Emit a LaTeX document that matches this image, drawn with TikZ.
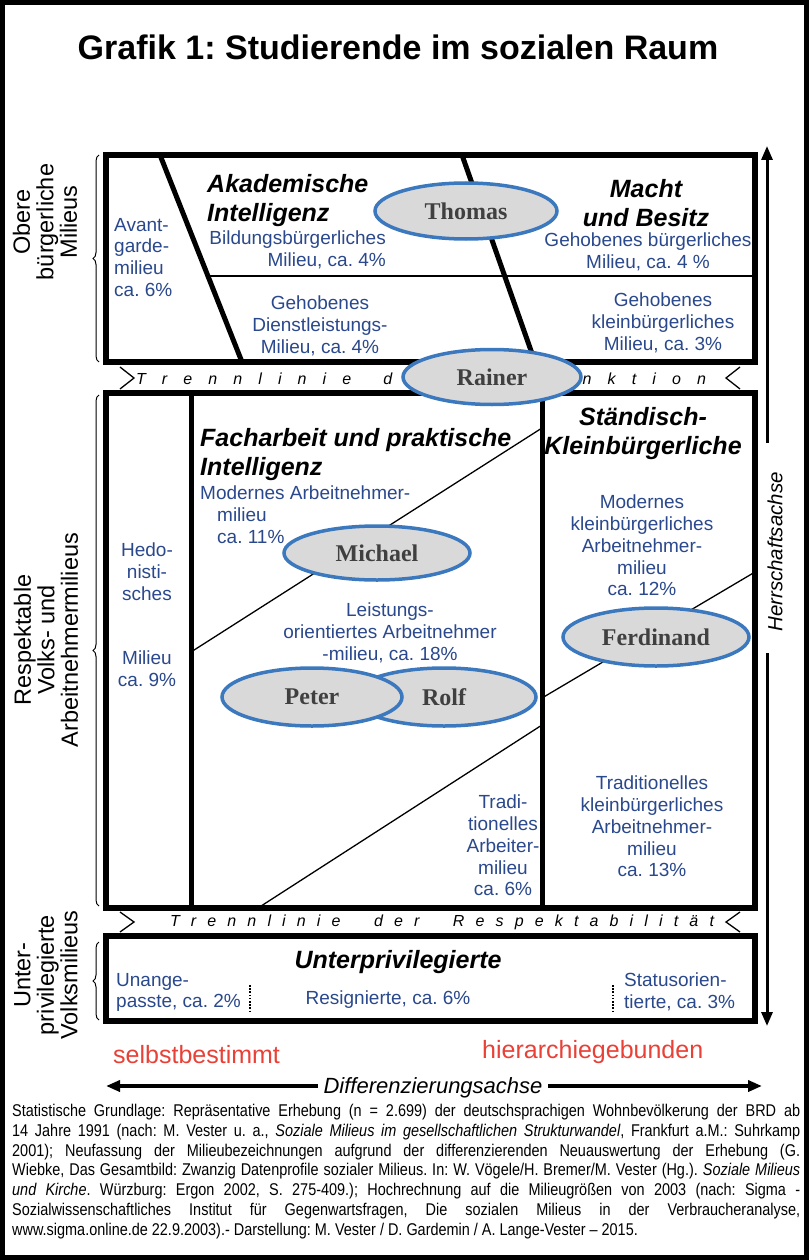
\documentclass[tikz,border=0pt]{standalone}
\usepackage{fontspec}
\setmainfont{Liberation Sans}
\newfontfamily\namefont{Liberation Serif}
\newfontfamily\narrowfont{Liberation Sans}[FakeStretch=0.85]
\usetikzlibrary{shapes.geometric,arrows.meta,decorations.pathreplacing}
\definecolor{mblue}{RGB}{42,72,140}
\definecolor{eblue}{RGB}{59,120,190}
\definecolor{egrey}{RGB}{217,217,217}
\definecolor{ngrey}{RGB}{64,64,64}
\definecolor{redtext}{RGB}{232,65,55}
\frenchspacing
\tikzset{
  milieubox/.style={line width=6pt, line join=miter},
  divider/.style={line width=5pt},
  thinline/.style={line width=1.3pt},
  milieu/.style={text=mblue, font=\fontsize{19}{21.7}\selectfont, inner sep=0pt, align=center},
  headline/.style={font=\fontsize{25}{29.5}\selectfont\bfseries\itshape, inner sep=0pt},
  person/.style={ellipse, draw=eblue, line width=3.5pt, fill=egrey, text=ngrey,
    font=\namefont\bfseries\fontsize{24}{24}\selectfont, inner sep=0pt},
  bandtext/.style={font=\fontsize{16}{16}\selectfont\itshape, inner sep=0pt},
  sidelabel/.style={font=\fontsize{23.5}{23.5}\selectfont, rotate=90, align=center, inner sep=0pt},
  axisarrow/.style={line width=3pt, -{Triangle[length=14pt,width=11pt]}},
  bracestyle/.style={decorate, decoration={brace, amplitude=6pt}, line width=1pt},
  dotsep/.style={line width=1.6pt, dash pattern=on 1.6pt off 1.6pt},
}
\begin{document}
\begin{tikzpicture}[x=1pt,y=-1pt]
\useasboundingbox (0,0) rectangle (809,1260);
\fill[white] (0,0) rectangle (809,1260);
\draw[line width=5pt] (2.5,2.5) rectangle (806.5,1257.5);

\node[font=\bfseries\fontsize{34}{40}\selectfont, inner sep=0pt] (title) at (398,47) {Grafik 1: Studierende im sozialen Raum};

% ---------- upper box
\draw[milieubox] (106,155) rectangle (755,362);
\draw[divider] (160,155) -- (242,362);
\draw[divider] (462,155) -- (535,362);
\draw[thinline] (208,276) -- (755,276);

\node[milieu, anchor=north west, align=left] (avant) at (114,218) {Avant-\\garde-\\milieu\\ca. 6\%};
\node[headline, anchor=north west, align=left] (akad) at (207,174) {Akademische\\Intelligenz};
\node[milieu, anchor=north east, align=right] (bildung) at (386,231) {Bildungsbürgerliches\\Milieu, ca. 4\%};
\node[milieu, anchor=north] (dienst) at (320,296) {Gehobenes\\Dienstleistungs-\\Milieu, ca. 4\%};
\node[headline, anchor=north, align=center] (macht) at (646,179) {Macht\\und Besitz};
\node[milieu, anchor=north] (gehob) at (648,233) {Gehobenes bürgerliches\\Milieu, ca. 4 \%};
\node[milieu, anchor=north] (gehkl) at (663,293) {Gehobenes\\kleinbürgerliches\\Milieu, ca. 3\%};

% ---------- band Distinktion
\draw[thinline] (120,367) -- (134,378) -- (120,389);
\draw[thinline] (740,367) -- (726,378) -- (740,389);
\node[bandtext] (distinktion) at (421,379) {\makebox[570pt][s]{T\hfill r\hfill e\hfill n\hfill n\hfill l\hfill i\hfill n\hfill i\hfill e\hfill\hfill d\hfill e\hfill r\hfill\hfill D\hfill i\hfill s\hfill t\hfill i\hfill n\hfill k\hfill t\hfill i\hfill o\hfill n}};

% ---------- middle box
\draw[milieubox] (106,393) rectangle (755,908);
\draw[divider] (191,393) -- (191,908);
\draw[divider] (542,393) -- (542,908);
\draw[thinline] (191,652) -- (542,428);
\draw[thinline] (258,908) -- (542,725);
\draw[thinline] (542,698) -- (755,572);

\node[milieu, anchor=north] (hedo) at (147,543) {Hedo-\\nisti-\\sches};
\node[milieu, anchor=north] (hedo2) at (147,651) {Milieu\\ca. 9\%};
\node[headline, anchor=north west, align=left] (fach) at (200,428) {Facharbeit und praktische\\Intelligenz};
\node[milieu, anchor=north west, align=left] (modern) at (200,486) {Modernes Arbeitnehmer-\\\hspace*{17pt}milieu\\\hspace*{17pt}ca. 11\%};
\node[milieu, anchor=north] (leist) at (390,603) {Leistungs-\\orientiertes Arbeitnehmer\\-milieu, ca. 18\%};
\node[headline, anchor=north, align=center] (staend) at (643,407) {Ständisch-\\Kleinbürgerliche};
\node[milieu, anchor=north] (modklein) at (642,495) {Modernes\\kleinbürgerliches\\Arbeitnehmer-\\milieu\\ca. 12\%};
\node[milieu, anchor=north] (tradarb) at (503,795) {Tradi-\\tionelles\\Arbeiter-\\milieu\\ca. 6\%};
\node[milieu, anchor=north] (tradklein) at (652,776) {Traditionelles\\kleinbürgerliches\\Arbeitnehmer-\\milieu\\ca. 13\%};

% ---------- band Respektabilitaet
\draw[thinline] (120,912) -- (134,922) -- (120,932);
\draw[thinline] (740,912) -- (726,922) -- (740,932);
\node[bandtext] (respekt) at (442,922) {\makebox[544pt][s]{T\hfill r\hfill e\hfill n\hfill n\hfill l\hfill i\hfill n\hfill i\hfill e\hfill\hfill\hfill d\hfill e\hfill r\hfill\hfill\hfill R\hfill e\hfill s\hfill p\hfill e\hfill k\hfill t\hfill a\hfill b\hfill i\hfill l\hfill i\hfill t\hfill ä\hfill t}};

% ---------- bottom box
\draw[milieubox] (106,936) rectangle (755,1021);
\node[headline] (unterpriv) at (398,962) {Unterprivilegierte};
\node[milieu, anchor=north west, align=left] (unange) at (116,973) {Unange-\\passte, ca. 2\%};
\node[milieu] (resign) at (388,1000) {Resignierte, ca. 6\%};
\node[milieu, anchor=north west, align=left] (status) at (624,973) {Statusorien-\\tierte, ca. 3\%};
\coordinate (d1a) at (250,985); \coordinate (d1b) at (250,1012);
\coordinate (d2a) at (613,985); \coordinate (d2b) at (613,1012);
\draw[dotsep] (d1a) -- (d1b);
\draw[dotsep] (d2a) -- (d2b);

% ---------- persons
\node[person, minimum width=182pt, minimum height=56pt] (thomas) at (466,211) {Thomas};
\node[person, minimum width=178pt, minimum height=55pt] (rainer) at (492,377) {Rainer};
\node[person, minimum width=186pt, minimum height=54pt] (michael) at (377,553) {Michael};
\node[person, minimum width=186pt, minimum height=58pt] (ferdinand) at (656,637) {Ferdinand};
\node[person, minimum width=184pt, minimum height=58pt] (rolf) at (444,697) {Rolf};
\node[person, minimum width=180pt, minimum height=58pt] (peter) at (312,697) {Peter};

% ---------- side labels
\node[sidelabel] (obere) at (45,222) {Obere\\bürgerliche\\Milieus};
\node[sidelabel] (volks) at (46,640) {Respektable\\Volks- und\\Arbeitnehmermilieus};
\node[sidelabel] (unterl) at (46,975) {Unter-\\privilegierte\\Volksmilieus};
\draw[bracestyle] (99,362) -- (99,155);
\draw[bracestyle] (99,906) -- (99,395);
\draw[bracestyle] (99,1020) -- (99,942);

% ---------- Herrschaftsachse
\node[rotate=90, font=\itshape\fontsize{20.5}{20.5}\selectfont, inner sep=0pt] (herr) at (775,552) {Herrschaftsachse};
\coordinate (hs1) at (767,443); \coordinate (htop) at (767,146);
\coordinate (hs2) at (767,653); \coordinate (hbot) at (767,1026);
\draw[axisarrow] (hs1) -- (htop);
\draw[axisarrow] (hs2) -- (hbot);

% ---------- Differenzierungsachse
\node[text=redtext, font=\fontsize{25}{25}\selectfont, anchor=west, inner sep=0pt] (selbst) at (113,1055) {selbstbestimmt};
\node[text=redtext, font=\fontsize{25}{25}\selectfont, anchor=west, inner sep=0pt] (hier) at (482,1052) {hierarchiegebunden};
\node[font=\itshape\fontsize{22}{22}\selectfont, inner sep=0pt] (diff) at (433,1088) {Differenzierungsachse};
\coordinate (da1) at (318,1086); \coordinate (dl) at (106,1086);
\coordinate (da2) at (548,1086); \coordinate (dr) at (762,1086);
\draw[axisarrow, line width=4pt] (da1) -- (dl);
\draw[axisarrow, line width=4pt] (da2) -- (dr);

% ---------- source
\node[anchor=north west, inner sep=0pt, align=left, font=\narrowfont\fontsize{17}{19.8}\selectfont] (source) at (12,1104) {%
\makebox[788pt][s]{Statistische Grundlage: Repräsentative Erhebung (n = 2.699) der deutschsprachigen Wohnbevölkerung der BRD ab}\\
\makebox[788pt][s]{14 Jahre 1991 (nach: M. Vester u. a., \textit{Soziale Milieus im gesellschaftlichen Strukturwandel}, Frankfurt a.M.: Suhrkamp}\\
\makebox[788pt][s]{2001); Neufassung der Milieubezeichnungen aufgrund der differenzierenden Neuauswertung der Erhebung (G.}\\
\makebox[788pt][s]{Wiebke, Das Gesamtbild: Zwanzig Datenprofile sozialer Milieus. In: W. Vögele/H. Bremer/M. Vester (Hg.). \textit{Soziale Milieus}}\\
\makebox[788pt][s]{\textit{und Kirche}. Würzburg: Ergon 2002, S. 275-409.); Hochrechnung auf die Milieugrößen von 2003 (nach: Sigma -}\\
\makebox[788pt][s]{Sozialwissenschaftliches Institut für Gegenwartsfragen, Die sozialen Milieus in der Verbraucheranalyse,}\\
www.sigma.online.de 22.9.2003).- Darstellung: M. Vester / D. Gardemin / A. Lange-Vester – 2015.};
\end{tikzpicture}
\end{document}
